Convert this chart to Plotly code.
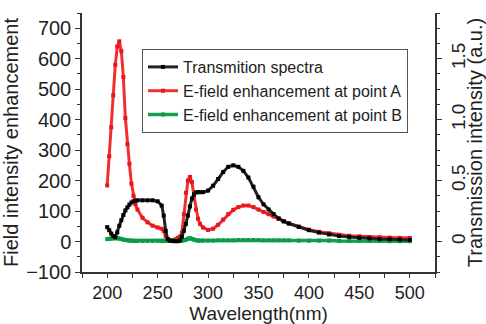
import plotly.graph_objects as go

wavelength = [200,202,204,206,208,210,212,214,216,218,220,222,224,226,228,230,
              235,240,245,250,
              254,256,258,260,262,264,266,268,270,272,274,276,278,280,282,284,286,288,290,292,
              295,300,
              305,310,315,320,325,330,335,340,345,350,355,360,365,370,375,380,
              390,400,410,420,430,440,450,460,470,480,490,500]

transmission = [0.118,0.093,0.065,0.045,0.035,0.075,0.13,0.175,0.218,0.255,0.28,0.303,0.32,0.33,0.335,0.338,
                0.338,0.338,0.338,0.33,
                0.295,0.213,0.088,0.02,0.008,0.005,0.003,0.003,0.003,0.008,0.038,0.088,0.145,0.213,0.288,0.353,0.388,0.403,0.405,0.405,
                0.405,0.418,
                0.458,0.513,0.57,0.613,0.625,0.613,0.58,0.525,0.45,0.363,0.305,0.263,0.225,0.19,0.165,0.148,
                0.12,0.093,0.073,0.058,0.045,0.038,0.03,0.025,0.02,0.018,0.015,0.013]

field_A = [184,280,375,480,580,640,657,625,540,405,320,255,190,150,122,105,
           78,63,52,46,
           42,35,18,8,4,3,5,8,12,16,28,90,160,200,212,195,150,105,75,58,
           46,38,
           42,55,72,90,104,113,118,118,113,105,97,90,82,74,67,60,
           49,39,32,27,22,19,17,15,14,13,12,12]

field_B = [8,9,10,11,11,11,10,8,6,5,4,3,3,2,2,2,
           2,2,2,2,
           2,2,2,2,2,2,2,2,2,2,3,4,6,9,11,9,6,4,3,3,
           3,3,
           3,4,4,4,4,5,5,5,5,5,4,4,4,4,4,4,
           3,3,3,3,2,2,2,2,2,1,1,1]

names = ["Transmition spectra", "E-field enhancement at point A", "E-field enhancement at point B"]

FONT = "Liberation Sans, Arial, sans-serif"

fig = go.Figure()
fig.add_trace(go.Scatter(
    x=wavelength, y=transmission, name=names[0], yaxis="y2",
    mode="lines+markers",
    line=dict(color="#222222", width=3),
    marker=dict(symbol="square", size=4, color="#000000"),
))
fig.add_trace(go.Scatter(
    x=wavelength, y=field_A, name=names[1],
    mode="lines+markers",
    line=dict(color="#f03030", width=3),
    marker=dict(symbol="square", size=4, color="#e8161b"),
))
fig.add_trace(go.Scatter(
    x=wavelength, y=field_B, name=names[2],
    mode="lines+markers",
    line=dict(color="#10a050", width=3.5),
    marker=dict(symbol="square", size=4, color="#0a9a48"),
))

axis_common = dict(
    showline=True, linecolor="#333333", linewidth=1.5,
    showgrid=False, zeroline=False,
    ticks="outside", tickcolor="#333333", tickwidth=1.2,
)

fig.update_layout(
    width=486, height=324,
    margin=dict(l=82, r=51, t=13, b=52),
    paper_bgcolor="white", plot_bgcolor="white",
    font=dict(family=FONT, color="#222222"),
    xaxis=dict(
        range=[175, 525], tick0=200, dtick=50, ticklen=4,
        minor=dict(tickmode="linear", tick0=175, dtick=25, ticks="outside", ticklen=4, tickcolor="#333333"),
        tickfont=dict(family=FONT, size=18, color="#222222"),
        title=dict(text="Wavelength(nm)", font=dict(family=FONT, size=19), standoff=1),
        automargin=False,
        **axis_common,
    ),
    yaxis=dict(
        range=[-100, 750], tick0=-100, dtick=100, ticklen=5,
        minor=dict(tickmode="linear", tick0=-100, dtick=50, ticks="outside", ticklen=3, tickcolor="#333333"),
        tickfont=dict(family=FONT, size=20, color="#222222"),
        title=dict(text="Field intensity enhancement", font=dict(family=FONT, size=20), standoff=2),
        automargin=False,
        **axis_common,
    ),
    yaxis2=dict(
        overlaying="y", side="right", anchor="x",
        range=[-0.25, 1.875], ticklen=5,
        tickmode="array", tickvals=[0, 0.5, 1.0, 1.5], ticktext=["0", "0.5", "1.0", "1.5"],
        tickangle=-90,
        minor=dict(tickmode="linear", tick0=0, dtick=0.125, ticks="outside", ticklen=3, tickcolor="#333333"),
        tickfont=dict(family=FONT, size=19, color="#222222"),
        title=dict(text="Transmission intensity (a.u.)", font=dict(family=FONT, size=20), standoff=2),
        automargin=False,
        **axis_common,
    ),
    legend=dict(
        x=0.17, y=0.861, xanchor="left", yanchor="top",
        bgcolor="white", bordercolor="#555555", borderwidth=1,
        font=dict(family=FONT, size=16, color="#222222"),
        tracegroupgap=0,
    ),
    showlegend=True,
)

fig.write_html("out.html")
